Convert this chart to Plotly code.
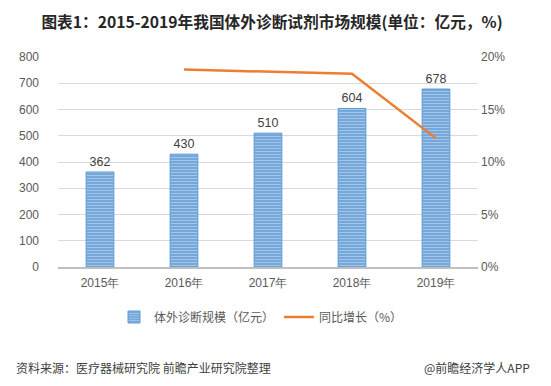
import plotly.graph_objects as go

years = ["2015年", "2016年", "2017年", "2018年", "2019年"]
market_size = [362, 430, 510, 604, 678]
growth_years = ["2016年", "2017年", "2018年", "2019年"]
growth_pct = [18.8, 18.6, 18.4, 12.25]

font = "Noto Sans CJK SC, sans-serif"
W, H = 551, 386
L, R, T, B = 50, 81, 49, 127
pw, ph = W - L - R, H - T - B

def px_x(x):
    return (x - L) / pw

def px_y(y):
    return (H - B - (y - 7)) / ph

fig = go.Figure()
fig.add_trace(go.Bar(
    x=years, y=market_size, name="体外诊断规模（亿元）",
    text=[str(v) for v in market_size], textposition="outside",
    textfont=dict(size=12.5, color="#404040", family="Arial, Liberation Sans, sans-serif"),
    marker=dict(color="#6fa3d8", line=dict(color="#5b9bd5", width=1),
                pattern=dict(shape="-", fgcolor="#dbe8f6", size=3, solidity=0.4)),
    width=0.33, cliponaxis=False,
))
fig.add_trace(go.Scatter(
    x=growth_years, y=growth_pct, name="同比增长（%）", yaxis="y2",
    mode="lines", line=dict(color="#ed7d31", width=2.5),
))

tickfont = dict(size=12, color="#595959", family="Arial, Liberation Sans, sans-serif")

fig.update_layout(
    width=W, height=H,
    margin=dict(l=L, r=R, t=T, b=B),
    paper_bgcolor="white", plot_bgcolor="white",
    font=dict(family=font, size=12, color="#595959"),
    title=dict(text="<b>图表1：2015-2019年我国体外诊断试剂市场规模(单位：亿元，%)</b>",
               x=264 / W, xanchor="center", y=1 - 15 / H, yanchor="middle",
               font=dict(size=15.7, color="#262626", family=font)),
    bargap=0.67,
    showlegend=True,
    legend=dict(orientation="h", x=px_x(106), y=px_y(316), xanchor="left", yanchor="middle",
                font=dict(size=12, color="#595959"), itemwidth=30, tracegroupgap=0),
    xaxis=dict(showline=True, linecolor="#bfbfbf", linewidth=1.5, ticks="",
               tickfont=tickfont, ticklabelstandoff=4),
    yaxis=dict(range=[0, 800], dtick=100, showgrid=True, gridcolor="#d9d9d9",
               zeroline=False, ticks="", ticklabelstandoff=18,
               tickfont=tickfont),
    yaxis2=dict(range=[0, 20], dtick=5, overlaying="y", side="right",
                showgrid=False, zeroline=False, ticksuffix="%",
                ticklabelstandoff=2, tickfont=tickfont),
    annotations=[
        dict(text="资料来源：医疗器械研究院 前瞻产业研究院整理", xref="paper", yref="paper",
             x=px_x(6), y=px_y(366), xanchor="left", yanchor="middle", showarrow=False,
             font=dict(size=12, color="#404040", family=font)),
        dict(text="@前瞻经济学人APP", xref="paper", yref="paper",
             x=px_x(414), y=px_y(366), xanchor="left", yanchor="middle", showarrow=False,
             font=dict(size=12, color="#404040", family=font)),
    ],
)

fig.write_html("out.html")
